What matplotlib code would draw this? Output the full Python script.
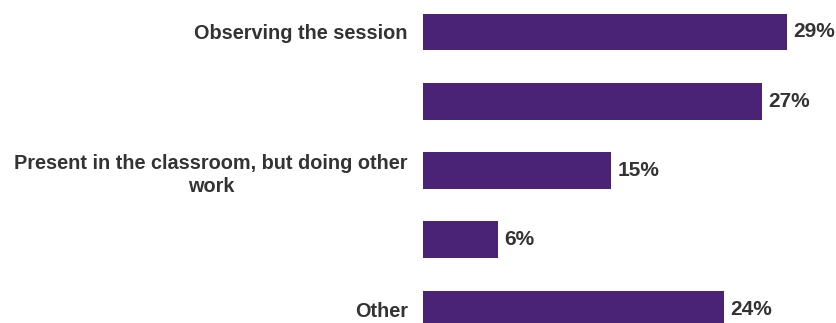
import matplotlib.pyplot as plt

# Survey responses: what the other adult was doing during the session
categories = ["Observing the session", "", "Present in the classroom, but doing other\nwork", "", "Other"]
shares = [29, 27, 15, 6, 24]

bar_color = "#4a2377"
text_color = "#333333"

plt.rcParams['font.family'] = ['Liberation Sans', 'DejaVu Sans']

fig = plt.figure(figsize=(8.37, 3.23), dpi=100)
ax = fig.add_axes([423 / 837, 0, 1 - 423 / 837, 1])

pos = list(range(len(categories)))
ax.barh(pos, shares, height=0.53, color=bar_color)

for y, v in zip(pos, shares):
    ax.annotate(f"{v}%", (v, y), xytext=(4.5, 0), textcoords="offset points",
                va="center", ha="left", fontsize=15, fontweight="bold", color=text_color)

ax.set_yticks(pos)
ax.set_yticklabels(categories, fontsize=14.3, fontweight="bold", color=text_color,
                   multialignment="center", linespacing=1.3)
ax.tick_params(axis="y", length=0, pad=11)
ax.set_xticks([])
ax.set_xlim(0, 414 / 12.56)
ax.set_ylim(4.202, -0.462)
for s in ax.spines.values():
    s.set_visible(False)

fig.savefig("out.png", dpi=100)
